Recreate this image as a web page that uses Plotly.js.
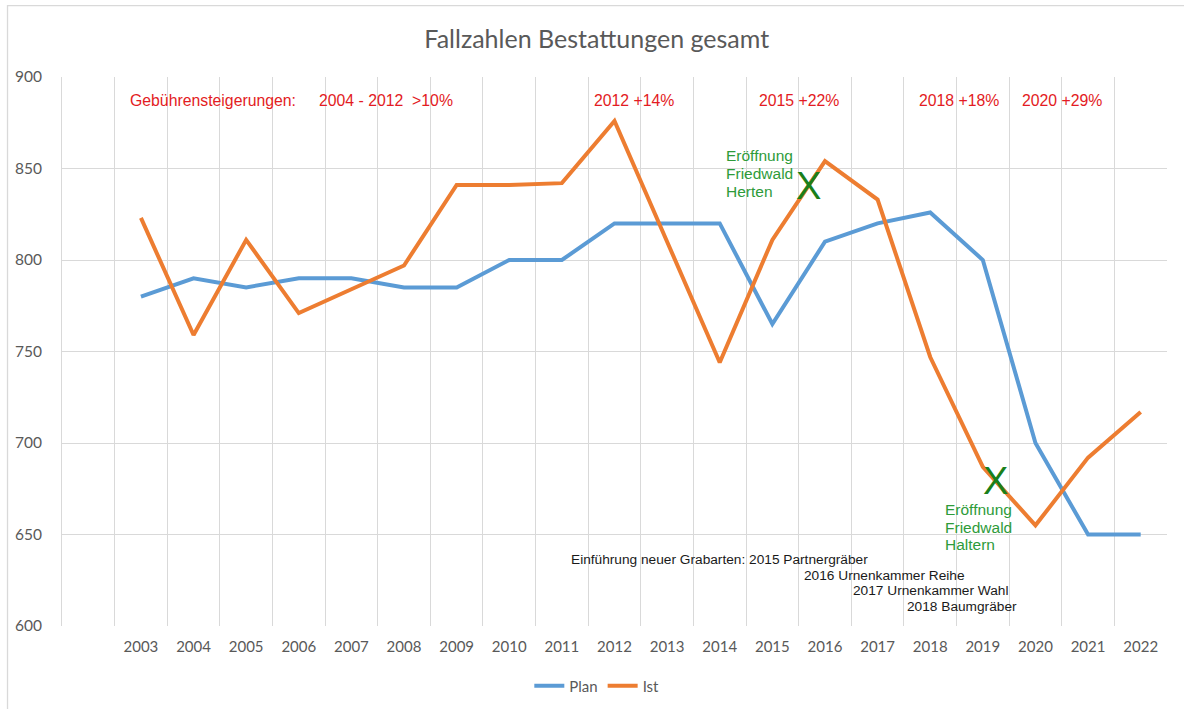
<!DOCTYPE html>
<html>
<head>
<meta charset="utf-8">
<script src="https://cdn.plot.ly/plotly-3.0.1.min.js"></script>
<style>html,body{margin:0;padding:0;background:#fff;}#chart{width:1184px;height:709px;}</style>
</head>
<body>
<div id="chart"></div>
<script>
const years = ["2003","2004","2005","2006","2007","2008","2009","2010","2011","2012","2013","2014","2015","2016","2017","2018","2019","2020","2021","2022"];
const plan = [780,790,785,790,790,785,785,800,800,820,820,820,765,810,820,826,800,700,650,650];
const ist  = [823,759,811,771,784,797,841,841,842,876,810,744,811,854,833,747,687,655,692,717];

const feeNotes = ["Gebührensteigerungen:", "2004 - 2012\u00a0\u00a0>10%", "2012 +14%", "2015 +22%", "2018 +18%", "2020 +29%"];
const openingHerten = ["Eröffnung", "Friedwald", "Herten"];
const openingHaltern = ["Eröffnung", "Friedwald", "Haltern"];
const graveNotes = ["Einführung neuer Grabarten: 2015 Partnergräber", "2016 Urnenkammer Reihe", "2017 Urnenkammer Wahl", "2018 Baumgräber"];

// plot-area geometry in pixels (for placing annotations)
const L = 61.5, R = 1167, T = 77.3, B = 626;
const px = x => (x - L) / (R - L);
const py = y => (B - y) / (B - T);

const red = "#E31B23", green = "#2E9B3A", xgreen = "#1A7F1A", black = "#1a1a1a";
const ARIAL = "Liberation Sans, Arial";
const ann = [];
const note = (t, x, y, size, color, xa) => ann.push({text: t, x: px(x), y: py(y), xref: "paper", yref: "paper",
  xanchor: xa || "left", yanchor: "middle", showarrow: false, font: {family: ARIAL, size: size, color: color}});

const feeX = [128, 317, 592, 757, 917, 1020];
feeNotes.forEach((t, i) => note(t, feeX[i], 101, 15.8, red));
openingHerten.forEach((t, i) => note(t, 724, 156 + 18 * i, 15.5, green));
openingHaltern.forEach((t, i) => note(t, 943, 510 + 17.5 * i, 15.5, green));
note("X", 808, 186, 38, xgreen, "center");
note("X", 995, 481, 38, xgreen, "center");
const graveX = [569, 802, 851, 905], graveY = [560, 576, 591, 607];
graveNotes.forEach((t, i) => note(t, graveX[i], graveY[i], 13.7, black));

const data = [
  {type: "scatter", mode: "lines", name: "Plan", x: years, y: plan, line: {color: "#5B9BD5", width: 4}},
  {type: "scatter", mode: "lines", name: "Ist", x: years, y: ist, line: {color: "#ED7D31", width: 4}}
];

const layout = {
  width: 1184, height: 709,
  margin: {l: 61.5, r: 17, t: 77.3, b: 83, autoexpand: false},
  paper_bgcolor: "#fff", plot_bgcolor: "#fff",
  font: {family: "Lato, Open Sans, sans-serif", color: "#595959"},
  title: {text: "Fallzahlen Bestattungen gesamt", x: 0.504, xanchor: "center", y: 0.944, yanchor: "middle",
    font: {family: "Lato, Open Sans, sans-serif", size: 25, color: "#595959"}},
  xaxis: {type: "category", range: [-1.5, 19.5], tickson: "boundaries", showgrid: true, gridcolor: "#d9d9d9", gridwidth: 1,
    ticks: "", zeroline: false, showline: false, ticklabelstandoff: 10, automargin: false,
    tickfont: {size: 15, color: "#595959"}, fixedrange: true},
  yaxis: {range: [600, 900], dtick: 50, showgrid: true, gridcolor: "#d9d9d9", gridwidth: 1, zeroline: false,
    showline: true, linecolor: "#d9d9d9", linewidth: 1, ticks: "", ticklabelstandoff: 16, automargin: false,
    tickfont: {size: 15.5, color: "#595959"}},
  showlegend: true,
  legend: {orientation: "h", x: 0.484, xanchor: "center", y: py(686), yanchor: "middle", font: {size: 15, color: "#595959"},
    itemwidth: 30, traceorder: "normal"},
  annotations: ann,
  shapes: [{type: "rect", xref: "paper", yref: "paper", x0: px(7), x1: px(1200), y0: py(730), y1: py(6),
    line: {color: "#d9d9d9", width: 1.3}, fillcolor: "rgba(0,0,0,0)", layer: "below"}]
};

Plotly.newPlot("chart", data, layout, {displayModeBar: false, staticPlot: true});
</script>
</body>
</html>
